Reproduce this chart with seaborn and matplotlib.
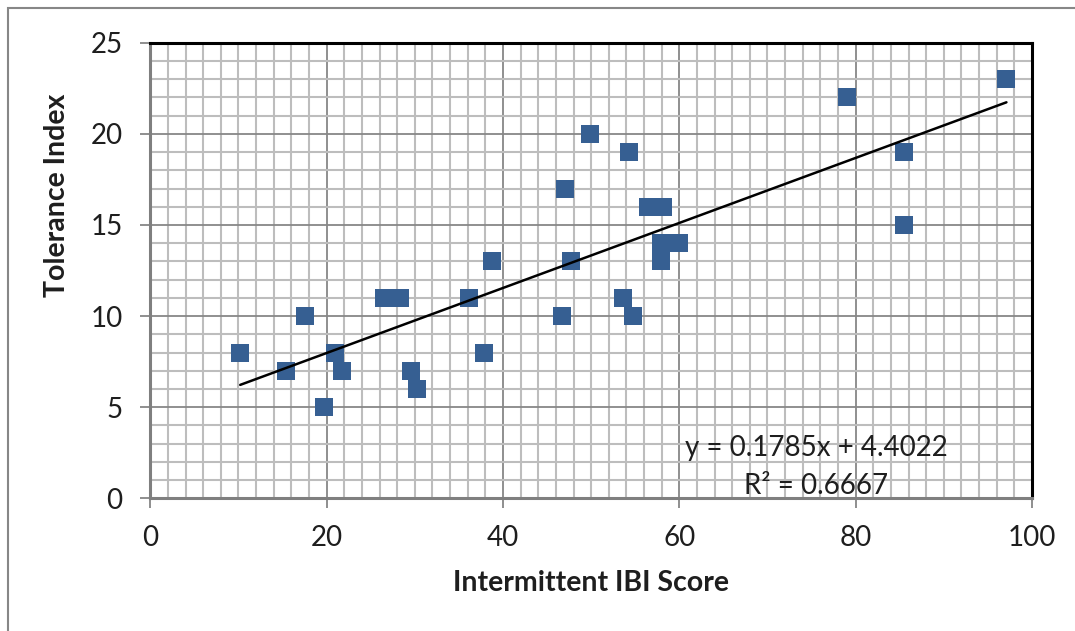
import numpy as np
import pandas as pd
import matplotlib
matplotlib.use("Agg")
import matplotlib.pyplot as plt
from matplotlib.ticker import MultipleLocator
from matplotlib.patches import Rectangle
import seaborn as sns

# data
ibi_score = [10.2, 15.4, 17.5, 19.7, 20.9, 21.8, 26.5, 28.3, 29.6, 30.3,
             36.1, 37.8, 38.7, 46.7, 47.0, 47.7, 49.9, 53.6, 54.3, 54.8,
             56.4, 58.1, 57.9, 60.0, 57.9, 79.0, 85.5, 85.5, 97.1]
tolerance = [8, 7, 10, 5, 8, 7, 11, 11, 7, 6,
             11, 8, 13, 10, 17, 13, 20, 11, 19, 10,
             16, 16, 14, 14, 13, 22, 19, 15, 23]
eq_text = "y = 0.1785x + 4.4022"
r2_text = "R² = 0.6667"

df = pd.DataFrame({"Intermittent IBI Score": ibi_score, "Tolerance Index": tolerance})

sns.set_style("white")
plt.rcParams["font.family"] = ["Lato", "DejaVu Sans"]

fig = plt.figure(figsize=(10.75, 6.31), dpi=100)
ax = fig.add_axes([0.1398, 0.2103, 0.8202, 0.722])

sns.regplot(data=df, x="Intermittent IBI Score", y="Tolerance Index", ax=ax, ci=None,
            marker="s",
            scatter_kws={"s": 165, "color": "#365F92", "linewidths": 0, "alpha": 1, "zorder": 3},
            line_kws={"color": "black", "lw": 1.8, "zorder": 4})

ax.set_xlim(0, 100)
ax.set_ylim(0, 25)
ax.xaxis.set_major_locator(MultipleLocator(20))
ax.xaxis.set_minor_locator(MultipleLocator(2))
ax.yaxis.set_major_locator(MultipleLocator(5))
ax.yaxis.set_minor_locator(MultipleLocator(1))

# grid
ax.set_axisbelow(True)
ax.grid(which="minor", color="#BDBDBD", lw=1.5)
ax.grid(which="major", color="#878787", lw=1.3)

# spines
for s in ["top", "right"]:
    ax.spines[s].set_color("black")
    ax.spines[s].set_linewidth(2.2)
for s in ["left", "bottom"]:
    ax.spines[s].set_color("#7F7F7F")
    ax.spines[s].set_linewidth(2.2)

ax.tick_params(which="major", direction="out", length=7, width=1.3, color="#868686",
               labelsize=20, labelcolor="#1E1E1E", left=True, bottom=True)
ax.tick_params(axis="x", pad=12)
ax.tick_params(axis="y", pad=13)
ax.tick_params(which="minor", length=0)

ax.set_xlabel("Intermittent IBI Score", fontsize=20.5, fontweight="bold", color="#1E1E1E", labelpad=14)
ax.set_ylabel("Tolerance Index", fontsize=20.5, fontweight="bold", color="#1E1E1E")
ax.yaxis.set_label_coords(-0.091, 0.664)

# trendline equation
ax.text(75.5, 2.78, eq_text, ha="center", va="center", fontsize=20, color="#1E1E1E", zorder=5)
ax.text(75.5, 0.70, r2_text, ha="center", va="center", fontsize=20, color="#1E1E1E", zorder=5)

# chart area border
fig.patches.append(Rectangle((8 / 1075, -0.2), 1.5, 1.2 - 8 / 631, transform=fig.transFigure,
                             fill=False, edgecolor="#878787", lw=1.5))

fig.savefig("out.png", dpi=100)
